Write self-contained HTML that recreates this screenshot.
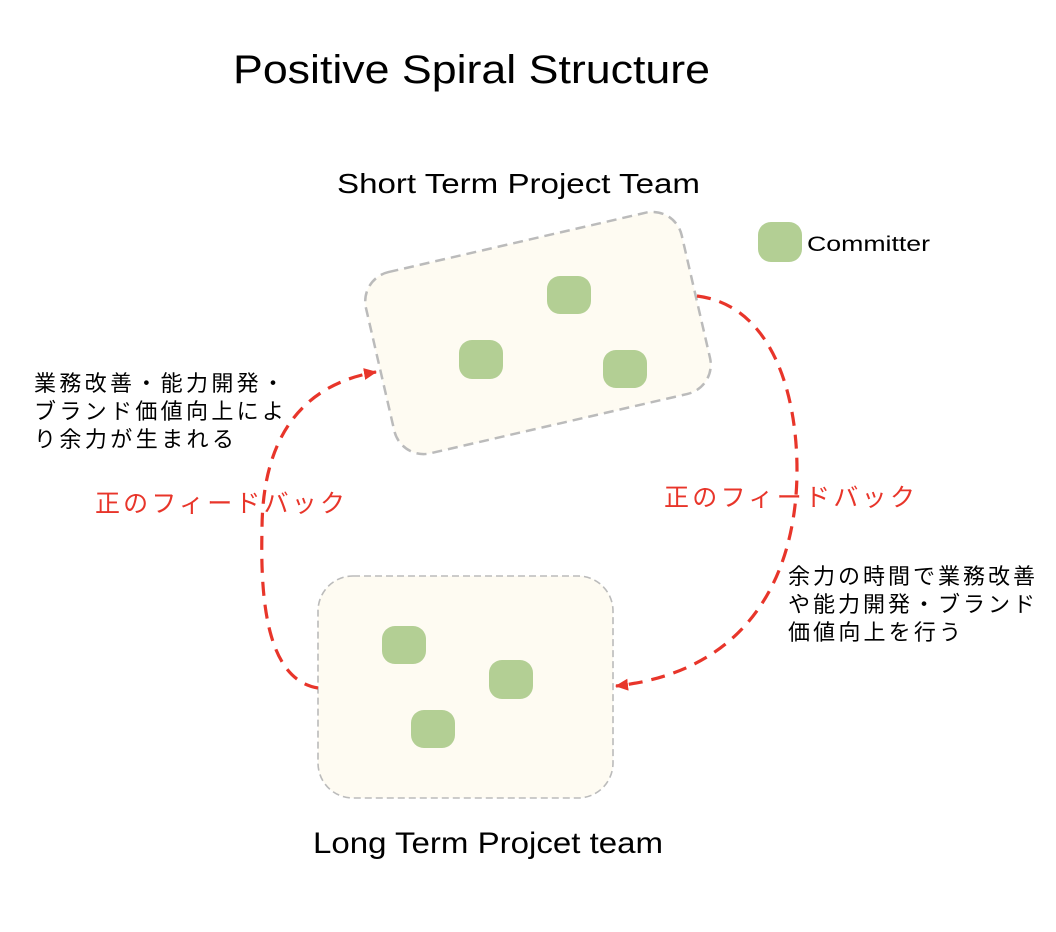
<!DOCTYPE html>
<html><head><meta charset="utf-8"><style>
html,body{margin:0;padding:0;background:#fff;}
svg{display:block}
.t{font-family:"Liberation Sans","Noto Sans CJK JP",sans-serif;}
</style></head><body>
<svg width="1056" height="932" viewBox="0 0 1056 932" xmlns="http://www.w3.org/2000/svg">
<defs>
<marker id="ah" markerWidth="16" markerHeight="14" refX="12" refY="7" orient="auto" markerUnits="userSpaceOnUse">
<path d="M0,1 L13,7 L0,13 Z" fill="#e8352a"/>
</marker>
</defs>
<text class="t" x="233" y="83" font-size="40" textLength="477" lengthAdjust="spacingAndGlyphs" fill="#000">Positive Spiral Structure</text>
<text class="t" x="337" y="193" font-size="28" textLength="363" lengthAdjust="spacingAndGlyphs" fill="#000">Short Term Project Team</text>
<text class="t" x="313" y="853" font-size="30" textLength="350" lengthAdjust="spacingAndGlyphs" fill="#000">Long Term Projcet team</text>

<g transform="translate(538,333) rotate(-13)">
<rect x="-162" y="-93" width="324" height="186" rx="30" fill="#fefbf2" stroke="#bbb" stroke-width="2.5" stroke-dasharray="10,6"/>
</g>
<rect x="318" y="576" width="295" height="222" rx="35" fill="#fefbf2" stroke="#bbb" stroke-width="1.6" stroke-dasharray="7,4"/>

<g fill="#b3cf94">
<rect x="547" y="276" width="44" height="38" rx="13"/>
<rect x="459" y="340" width="44" height="39" rx="13"/>
<rect x="603" y="350" width="44" height="38" rx="13"/>
<rect x="382" y="626" width="44" height="38" rx="13"/>
<rect x="489" y="660" width="44" height="39" rx="13"/>
<rect x="411" y="710" width="44" height="38" rx="13"/>
<rect x="758" y="222" width="44" height="40" rx="13"/>
</g>
<text class="t" x="807" y="251" font-size="21" textLength="123" lengthAdjust="spacingAndGlyphs" fill="#000">Committer</text>

<path d="M697,296 C770,305 797,390 797,470 C797,560 760,670 616,686" fill="none" stroke="#e8352a" stroke-width="3.2" stroke-dasharray="14,9" marker-end="url(#ah)"/>
<path d="M318,688 C270,680 260,610 262,530 C262,440 300,385 376,372" fill="none" stroke="#e8352a" stroke-width="3.2" stroke-dasharray="14,9" marker-end="url(#ah)"/>

<g class="t" font-size="22" fill="#000">
<text x="34" y="391" textLength="250" lengthAdjust="spacing">業務改善・能力開発・</text>
<text x="34" y="419" textLength="250" lengthAdjust="spacing">ブランド価値向上によ</text>
<text x="34" y="447" textLength="200" lengthAdjust="spacing">り余力が生まれる</text>
<text x="788" y="584" textLength="247" lengthAdjust="spacing">余力の時間で業務改善</text>
<text x="788" y="612" textLength="247" lengthAdjust="spacing">や能力開発・ブランド</text>
<text x="788" y="640" textLength="173" lengthAdjust="spacing">価値向上を行う</text>
</g>
<text class="t" x="95" y="512" font-size="25" fill="#e8352a" textLength="250" lengthAdjust="spacing">正のフィードバック</text>
<text class="t" x="664" y="506" font-size="25" fill="#e8352a" textLength="251" lengthAdjust="spacing">正のフィードバック</text>
</svg>
</body></html>
